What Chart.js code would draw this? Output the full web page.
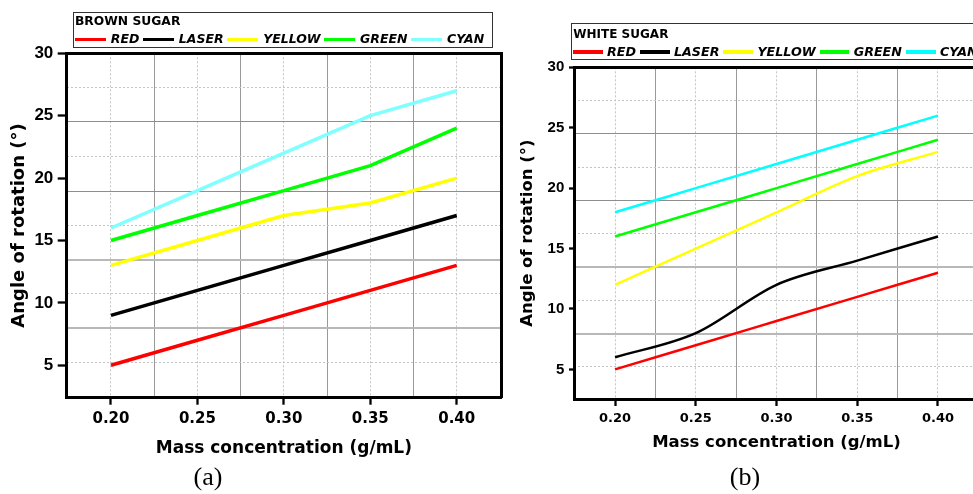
<!DOCTYPE html>
<html>
<head>
<meta charset="utf-8">
<script src="https://cdn.jsdelivr.net/npm/chart.js@4.4.1/dist/chart.umd.min.js"></script>
<style>
html, body { margin: 0; padding: 0; background: #fff; width: 973px; height: 494px; overflow: hidden; position: relative; }
canvas { position: absolute; top: 0; }
#chartA { left: 0; }
#chartB { left: 504px; }
.lg-box { position: absolute; border: 1.4px solid #333; box-sizing: border-box; }
.lg-title { position: absolute; font-family: "DejaVu Sans"; font-weight: bold; line-height: 1; white-space: nowrap; color: #000; }
.lg-row { position: absolute; display: flex; align-items: center; white-space: nowrap; font-family: "DejaVu Sans"; font-weight: bold; font-style: italic; line-height: 1; color: #000; }
.lg-line { display: inline-block; flex: none; }
.cap { position: absolute; width: 100px; text-align: center; font-family: "Liberation Serif"; font-size: 26px; line-height: 26px; color: #000; }
</style>
</head>
<body>
<canvas id="chartA" width="504" height="463"></canvas>
<canvas id="chartB" width="496" height="463"></canvas>

<div class="lg-box" style="left:72.7px; top:11.7px; width:420.6px; height:36px;"></div>
<div class="lg-title" id="titleA" style="left:75px; top:15.3px; font-size:12.3px;"></div>
<div class="lg-row" id="legendA" style="left:75px; top:33.3px; font-size:12.5px;"></div>

<div class="lg-box" style="left:571px; top:23.3px; width:430px; height:36.7px;"></div>
<div class="lg-title" id="titleB" style="left:573.3px; top:27.8px; font-size:12px;"></div>
<div class="lg-row" id="legendB" style="left:573px; top:45.6px; font-size:12.7px;"></div>

<div class="cap" style="left:158px; top:464px;">(a)</div>
<div class="cap" style="left:695px; top:464px;">(b)</div>

<script>
// ---------- data ----------
const concentrations = [0.20, 0.25, 0.30, 0.35, 0.40];
const xTickLabels = ['0.20', '0.25', '0.30', '0.35', '0.40'];
const yTickValues = [5, 10, 15, 20, 25, 30];
const seriesNames = ['RED', 'LASER', 'YELLOW', 'GREEN', 'CYAN'];

const brownTitle = 'BROWN SUGAR';
const brownRed    = [5, 7, 9, 11, 13];
const brownLaser  = [9, 11, 13, 15, 17];
const brownYellow = [13, 15, 17, 18, 20];
const brownGreen  = [15, 17, 19, 21, 24];
const brownCyan   = [16, 19, 22, 25, 27];

const whiteTitle = 'WHITE SUGAR';
const whiteRed    = [5, 7, 9, 11, 13];
const whiteLaser  = [6, 8, 12, 14, 16];
const whiteYellow = [12, 15, 18, 21, 23];
const whiteGreen  = [16, 18, 20, 22, 24];
const whiteCyan   = [18, 20, 22, 24, 26];

const gridXDotted = [0.20, 0.25, 0.30, 0.35, 0.40];
const gridXSolid  = [0.225, 0.275, 0.325, 0.375];
const gridYDotted = [5.2, 10.72, 16.24, 21.73, 27.25];
const gridYSolid  = [7.97, 13.46, 18.96, 24.5];

const xTitle = 'Mass concentration (g/mL)';
const yTitle = 'Angle of rotation (°)';

// ---------- styles ----------
const brownColors = ['#ff0000', '#000000', '#ffff00', '#00ff00', '#80ffff'];
const whiteColors = ['#ff0000', '#000000', '#ffff00', '#00ff00', '#00ffff'];

function buildLegend(titleId, rowId, title, colors, st) {
  document.getElementById(titleId).textContent = title;
  const row = document.getElementById(rowId);
  seriesNames.forEach((n, i) => {
    const line = document.createElement('span');
    line.className = 'lg-line';
    line.style.background = colors[i];
    line.style.width = st.lineW + 'px';
    line.style.height = st.lineH + 'px';
    line.style.marginRight = st.gap + 'px';
    const txt = document.createElement('span');
    txt.textContent = n;
    txt.style.marginRight = st.after + 'px';
    row.appendChild(line);
    row.appendChild(txt);
  });
}

function makeChart(id, series, colors, o) {
  const bold = (family, size) => ({ family, size, weight: 'bold' });
  const aux = (axis, position, ticks, color, lineWidth, dash) => ({
    type: 'linear', axis, position,
    min: axis === 'x' ? o.xMin : o.yMin,
    max: axis === 'x' ? o.xMax : o.yMax,
    afterBuildTicks: s => { s.ticks = ticks.map(v => ({ value: v })); },
    ticks: { display: false },
    grid: { display: true, drawTicks: false, drawOnChartArea: true, color, lineWidth },
    border: { display: false, dash }
  });
  const frame = (axis, position) => ({
    type: 'linear', axis, position,
    min: axis === 'x' ? o.xMin : o.yMin,
    max: axis === 'x' ? o.xMax : o.yMax,
    ticks: { display: false },
    grid: { display: false, drawTicks: false },
    border: { display: true, width: 3, color: '#000' }
  });
  const datasets = series.map((vals, i) => ({
    label: seriesNames[i],
    data: concentrations.map((x, j) => ({ x, y: vals[j] })),
    borderColor: colors[i],
    backgroundColor: colors[i],
    borderWidth: o.lineWidth,
    pointRadius: 0,
    fill: false,
    cubicInterpolationMode: o.smooth ? 'monotone' : 'default',
    tension: 0,
    xAxisID: 'x', yAxisID: 'y'
  }));
  return new Chart(document.getElementById(id), {
    type: 'line',
    data: { datasets },
    options: {
      responsive: false,
      animation: false,
      devicePixelRatio: 1,
      layout: { padding: o.pad },
      plugins: { legend: { display: false }, tooltip: { enabled: false } },
      scales: {
        x: {
          type: 'linear', axis: 'x', position: 'bottom', min: o.xMin, max: o.xMax,
          afterBuildTicks: s => { s.ticks = concentrations.map(v => ({ value: v })); },
          afterFit: s => { s.height = o.xH; },
          ticks: { autoSkip: false, maxRotation: 0, color: '#000', font: bold('DejaVu Sans', o.xTickSize), padding: o.xTickPad,
                   callback: (v, i) => xTickLabels[i] },
          grid: { display: true, drawOnChartArea: false, drawTicks: true, tickLength: o.xTickLen, tickWidth: 2.3, tickColor: '#000' },
          border: { display: true, width: 3, color: '#000' },
          title: { display: true, text: xTitle, color: '#000', font: bold('DejaVu Sans', o.xTitleSize), padding: { top: 0, bottom: o.xTitlePad } }
        },
        y: {
          type: 'linear', axis: 'y', position: 'left', min: o.yMin, max: o.yMax,
          afterBuildTicks: s => { s.ticks = yTickValues.map(v => ({ value: v })); },
          afterFit: s => { s.width = o.yW; },
          ticks: { color: '#000', font: bold('Liberation Sans', o.yTickSize), padding: o.yTickPad, callback: v => String(v) },
          grid: { display: true, drawOnChartArea: false, drawTicks: true, tickLength: o.yTickLen, tickWidth: 2.3, tickColor: '#000' },
          border: { display: true, width: 3, color: '#000' },
          title: { display: true, text: yTitle, color: '#000', font: bold('DejaVu Sans', o.yTitleSize), padding: { top: o.yTitlePad, bottom: 0 } }
        },
        xDot: aux('x', 'bottom', gridXDotted, '#c4c4c4', 1, [2, 2]),
        xSolid: aux('x', 'bottom', gridXSolid, '#9a9a9a', 1, []),
        yDot: aux('y', 'left', gridYDotted, '#c4c4c4', 1, [2, 2]),
        ySolid: {
          ...aux('y', 'left', gridYSolid, '#8e8e8e', 1, []),
          grid: { display: true, drawTicks: false, drawOnChartArea: true,
                  color: c => (c.tick && c.tick.value < 15 ? '#b8b8b8' : '#8e8e8e'),
                  lineWidth: c => (c.tick && c.tick.value < 15 ? 2 : 1) }
        },
        xTop: frame('x', 'top'),
        yRight: frame('y', 'right')
      }
    }
  });
}

buildLegend('titleA', 'legendA', brownTitle, brownColors, { lineW: 30.5, lineH: 3.6, gap: 5.3, after: 3.7 });
buildLegend('titleB', 'legendB', whiteTitle, whiteColors, { lineW: 29.7, lineH: 3.3, gap: 4.3, after: 4 });

makeChart('chartA', [brownRed, brownLaser, brownYellow, brownGreen, brownCyan], brownColors, {
  xMin: 0.1744, xMax: 0.4256, yMin: 2.4, yMax: 30,
  pad: { left: 0, top: 53.3, right: 3, bottom: 0 },
  yW: 66.7, xH: 65.3,
  yTickSize: 17, yTickLen: 9, yTickPad: 4.4,
  xTickSize: 15, xTickLen: 7, xTickPad: 5.5,
  xTitleSize: 17, xTitlePad: 4.5,
  yTitleSize: 18, yTitlePad: 9,
  lineWidth: 3.5, smooth: false
});

makeChart('chartB', [whiteRed, whiteLaser, whiteYellow, whiteGreen, whiteCyan], whiteColors, {
  xMin: 0.1746, xMax: 0.4254, yMin: 2.55, yMax: 30,
  pad: { left: 0, top: 67.3, right: 21, bottom: 0 },
  yW: 70, xH: 64,
  yTickSize: 15, yTickLen: 5, yTickPad: 4.7,
  xTickSize: 13, xTickLen: 7, xTickPad: 4.5,
  xTitleSize: 16.5, xTitlePad: 9.9,
  yTitleSize: 16.5, yTitlePad: 13.7,
  lineWidth: 2.5, smooth: true
});
</script>
</body>
</html>
